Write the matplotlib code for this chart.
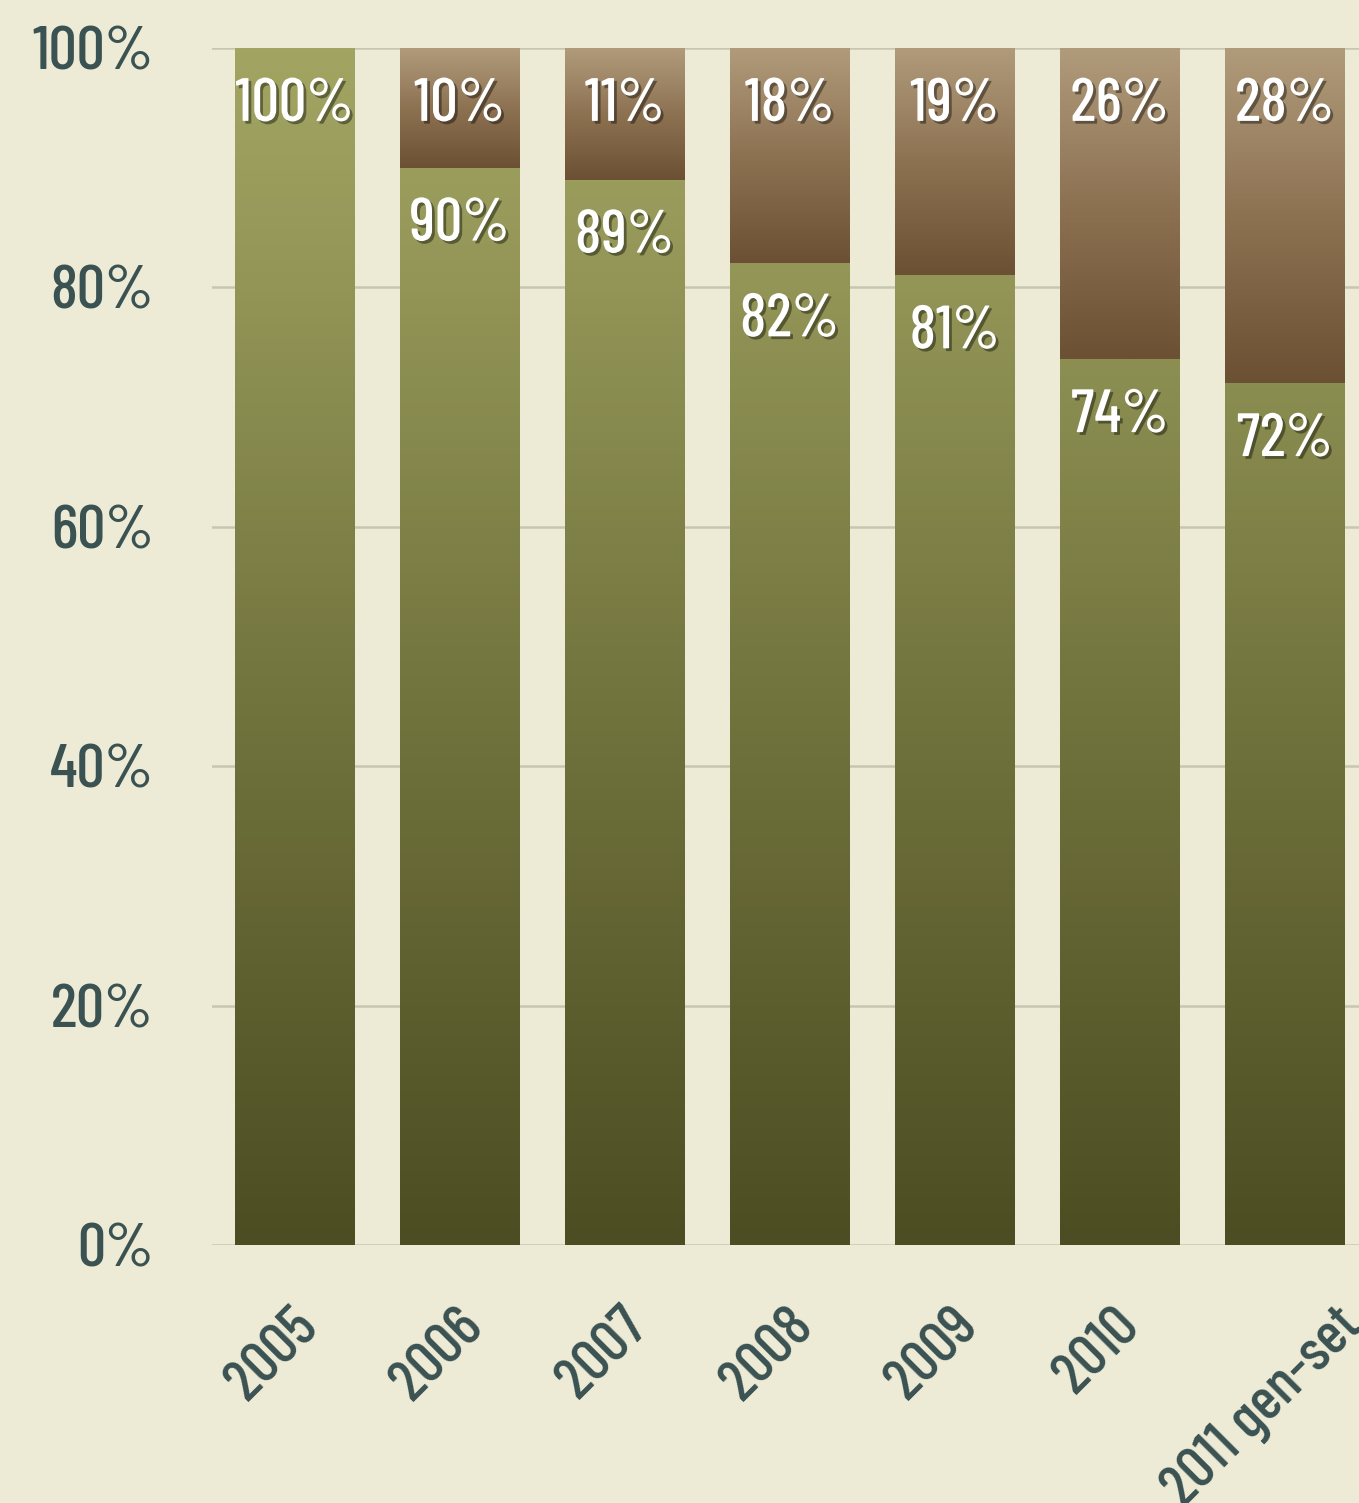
import numpy as np
import matplotlib
matplotlib.use("Agg")
import matplotlib.pyplot as plt
import matplotlib.patheffects as pe
import matplotlib.transforms as mtransforms
from matplotlib.colors import LinearSegmentedColormap

# data
years = ['2005', '2006', '2007', '2008', '2009', '2010', '2011 gen-set']
green_share = [100, 90, 89, 82, 81, 74, 72]
brown_share = [0, 10, 11, 18, 19, 26, 28]
yticks = [0, 20, 40, 60, 80, 100]

bg = '#edebd5'
text_col = '#3b5252'
font = ['Barlow Condensed', 'DejaVu Sans']

green_cmap = LinearSegmentedColormap.from_list(
    'g', [(0, '#4c4d22'), (0.5, '#767841'), (0.8, '#929556'), (1, '#a2a562')])
brown_cmap = LinearSegmentedColormap.from_list(
    'b', [(0, '#6c5033'), (0.5, '#8d7252'), (1, '#b09b7b')])

fig = plt.figure(figsize=(13.59, 15.03), dpi=100, facecolor=bg)
ax = fig.add_axes([0.156, 0.1717, 0.844, 0.7964])
ax.set_facecolor(bg)

x = np.arange(len(years))
w = 0.727
ramp = np.linspace(0, 1, 256).reshape(-1, 1)

# bottom (green) segment, gradient over the full axis height
bars_g = ax.bar(x, green_share, width=w, color='none', zorder=2)
for xi, bar in zip(x, bars_g):
    im = ax.imshow(green_cmap(ramp), extent=[xi - w / 2, xi + w / 2, 0, 100],
                   origin='lower', aspect='auto', zorder=2)
    im.set_clip_path(bar)

# top (brown) segment, gradient per segment
bars_b = ax.bar(x, brown_share, bottom=green_share, width=w, color='none', zorder=2)
for xi, g, b, bar in zip(x, green_share, brown_share, bars_b):
    if b <= 0:
        continue
    im = ax.imshow(brown_cmap(ramp), extent=[xi - w / 2, xi + w / 2, g, g + b],
                   origin='lower', aspect='auto', zorder=2)
    im.set_clip_path(bar)

shadow = [pe.SimplePatchShadow(offset=(2, -2), shadow_rgbFace='black', alpha=0.4), pe.Normal()]
for xi, g, b in zip(x, green_share, brown_share):
    ax.annotate(f'{g}%', (xi, g), xytext=(0, -41), textcoords='offset points',
                ha='center', va='center', color='white', fontsize=44,
                family=font, weight='medium', path_effects=shadow, zorder=4)
    if b > 0:
        ax.annotate(f'{b}%', (xi, g + b), xytext=(0, -41), textcoords='offset points',
                    ha='center', va='center', color='white', fontsize=44,
                    family=font, weight='medium', path_effects=shadow, zorder=4)

ax.set_xlim(-0.5, 6.45)
ax.set_ylim(0, 100)
ax.set_yticks(yticks)
ax.set_yticklabels([f'{v}%' for v in yticks], family=font, fontsize=45,
                   weight='medium', color=text_col)

# category labels drawn as text so they can be nudged left of the bar centre
ax.set_xticks(x)
ax.set_xticklabels([])
lab_tr = ax.get_xaxis_transform() + mtransforms.ScaledTranslation(
    -22 / 100, -54 / 100, fig.dpi_scale_trans)
for xi, name in zip(x, years):
    ax.text(xi, 0, name, transform=lab_tr, rotation=45, ha='center', va='top',
            family=font, fontsize=43, weight='medium', color=text_col)

ax.tick_params(axis='both', length=0)
ax.tick_params(axis='y', pad=42)
ax.grid(axis='y', color='#c6c7b2', lw=1.8)
ax.set_axisbelow(True)
for s in ax.spines.values():
    s.set_visible(False)

fig.savefig('out.png', dpi=100, facecolor=bg)
